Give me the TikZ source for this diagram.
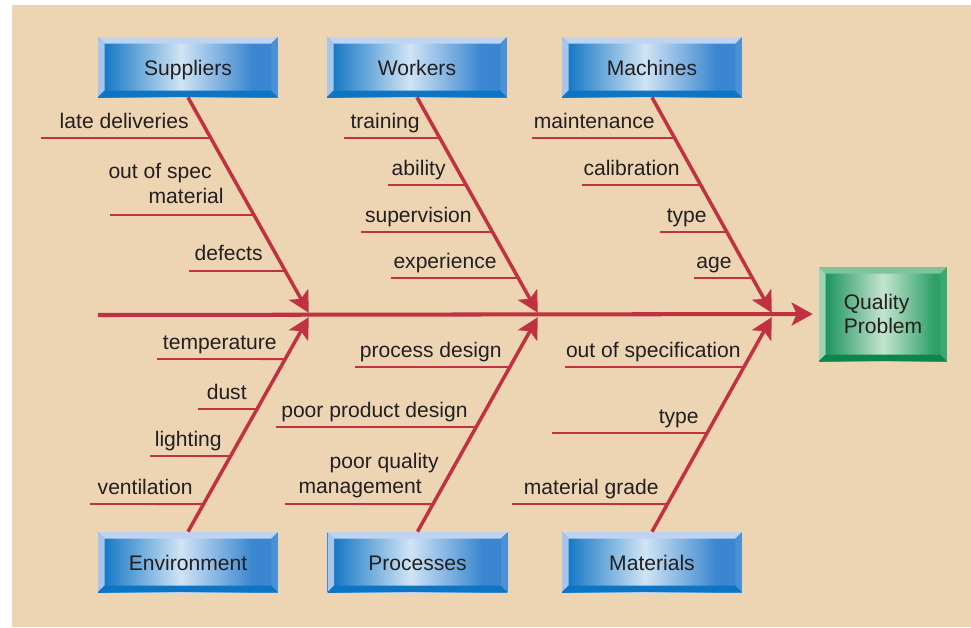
\documentclass[tikz,border=0pt]{standalone}
\usepackage{fontspec}
\setmainfont{Liberation Sans}
\usetikzlibrary{arrows.meta}
\definecolor{paper}{RGB}{237, 213, 180}
\definecolor{redline}{RGB}{192, 50, 66}
\definecolor{ink}{RGB}{35, 31, 32}
\definecolor{bluedark}{RGB}{8, 112, 194}
\definecolor{bluelight}{RGB}{208, 228, 245}
\definecolor{bluemid}{RGB}{58, 134, 208}
\definecolor{bluetop}{RGB}{190, 212, 240}
\definecolor{blueleft}{RGB}{168, 198, 236}
\definecolor{bluebottom}{RGB}{14, 116, 196}
\definecolor{blueright}{RGB}{76, 144, 214}
\definecolor{greendark}{RGB}{10, 140, 82}
\definecolor{greenlight}{RGB}{196, 228, 208}
\definecolor{greenmid}{RGB}{46, 160, 104}
\definecolor{greentop}{RGB}{124, 196, 156}
\definecolor{greenleft}{RGB}{158, 212, 180}
\definecolor{greenbottom}{RGB}{12, 134, 76}
\definecolor{greenright}{RGB}{58, 168, 112}
\pgfdeclarehorizontalshading{bluebar}{100bp}{color(0bp)=(bluedark); color(25bp)=(bluedark);
  color(48bp)=(bluelight); color(68bp)=(bluemid); color(100bp)=(bluemid)}
\pgfdeclarehorizontalshading{greenbar}{100bp}{color(0bp)=(greendark); color(25bp)=(greendark);
  color(50bp)=(greenlight); color(70bp)=(greenmid); color(100bp)=(greenmid)}

\begin{document}
\begin{tikzpicture}[x=0.02cm, y=-0.02cm,
  bevel/.style n args={4}{path picture={
    \path (path picture bounding box.north west) coordinate (bnw)
          (path picture bounding box.north east) coordinate (bne)
          (path picture bounding box.south west) coordinate (bsw)
          (path picture bounding box.south east) coordinate (bse);
    \fill[#1] (bnw) -- (bne) -- ([shift={(-0.13cm,-0.13cm)}]bne) -- ([shift={(0.13cm,-0.13cm)}]bnw) -- cycle;
    \fill[#2] (bnw) -- (bsw) -- ([shift={(0.13cm,0.13cm)}]bsw) -- ([shift={(0.13cm,-0.13cm)}]bnw) -- cycle;
    \fill[#3] (bsw) -- (bse) -- ([shift={(-0.13cm,0.13cm)}]bse) -- ([shift={(0.13cm,0.13cm)}]bsw) -- cycle;
    \fill[#4] (bne) -- (bse) -- ([shift={(-0.13cm,0.13cm)}]bse) -- ([shift={(-0.13cm,-0.13cm)}]bne) -- cycle;
  }},
  catbox/.style={rectangle, minimum width=3.6cm, minimum height=1.2cm, inner sep=0pt,
    shading=bluebar, bevel={bluetop}{blueleft}{bluebottom}{blueright},
    text=ink, font=\fontsize{12}{14}\selectfont, text height=0.34cm, text depth=0pt},
  effectbox/.style={rectangle, minimum width=2.56cm, minimum height=1.88cm, inner sep=0pt,
    shading=greenbar, bevel={greentop}{greenleft}{greenbottom}{greenright},
    text=ink, font=\fontsize{12}{13.5}\selectfont, align=left},
  bone/.style={draw=redline, line width=2pt, shorten >=0.05cm,
    -{Stealth[length=0.42cm, width=0.44cm, inset=0.1cm]}},
  spine/.style={draw=redline, line width=2.3pt, shorten >=0.12cm,
    -{Stealth[length=0.42cm, width=0.46cm, inset=0.1cm]}},
  twig/.style={draw=redline, line width=1.1pt},
  cause/.style={anchor=base east, inner sep=0pt, text=ink, font=\fontsize{12}{14}\selectfont}]

  \useasboundingbox (0,0) rectangle (971,627);
  \fill[paper] (12,5) rectangle (971,627);

  % category boxes and effect
  \node[catbox] (sup) at (188,67) {Suppliers};
  \node[catbox] (wor) at (417,67) {Workers};
  \node[catbox] (mac) at (652,67) {Machines};
  \node[catbox] (env) at (188,562) {Environment};
  \node[catbox] (pro) at (417.5,562) {Processes};
  \node[catbox] (mat) at (652,562) {Materials};
  \node[effectbox] (qp) at (883,314) {Quality\\Problem};

  \coordinate (tail) at (98,315);
  \coordinate (j1) at (310,315);
  \coordinate (j2) at (539,315);
  \coordinate (j3) at (773,315);

  % Suppliers
  \draw[twig] (41,138) -- (intersection of 41,138--0,138 and sup.south--j1);
  \node[cause] (late) at (189,128) {late deliveries};
  \draw[twig] (110,215) -- (intersection of 110,215--0,215 and sup.south--j1);
  \node[cause] (spec1) at (212,178) {out of spec};
  \node[cause] (spec2) at (224,203) {material};
  \draw[twig] (189,271) -- (intersection of 189,271--0,271 and sup.south--j1);
  \node[cause] (defects) at (263,260) {defects};

  % Workers
  \draw[twig] (344,138) -- (intersection of 344,138--0,138 and wor.south--j2);
  \node[cause] (training) at (420,128) {training};
  \draw[twig] (388,185) -- (intersection of 388,185--0,185 and wor.south--j2);
  \node[cause] (ability) at (446,175) {ability};
  \draw[twig] (361,232) -- (intersection of 361,232--0,232 and wor.south--j2);
  \node[cause] (supervision) at (472,222) {supervision};
  \draw[twig] (391,278) -- (intersection of 391,278--0,278 and wor.south--j2);
  \node[cause] (experience) at (497,268) {experience};

  % Machines
  \draw[twig] (532,138) -- (intersection of 532,138--0,138 and mac.south--j3);
  \node[cause] (maintenance) at (655,128) {maintenance};
  \draw[twig] (582,185) -- (intersection of 582,185--0,185 and mac.south--j3);
  \node[cause] (calibration) at (680,175) {calibration};
  \draw[twig] (660,232) -- (intersection of 660,232--0,232 and mac.south--j3);
  \node[cause] (mtype) at (707,222) {type};
  \draw[twig] (694,278) -- (intersection of 694,278--0,278 and mac.south--j3);
  \node[cause] (age) at (732,268) {age};

  % Environment
  \draw[twig] (157,359) -- (intersection of 157,359--0,359 and env.north--j1);
  \node[cause] (temperature) at (277,349) {temperature};
  \draw[twig] (198,409) -- (intersection of 198,409--0,409 and env.north--j1);
  \node[cause] (dust) at (247,399) {dust};
  \draw[twig] (150,456) -- (intersection of 150,456--0,456 and env.north--j1);
  \node[cause] (lighting) at (222,446) {lighting};
  \draw[twig] (90,504) -- (intersection of 90,504--0,504 and env.north--j1);
  \node[cause] (ventilation) at (193,494) {ventilation};

  % Processes
  \draw[twig] (355,367) -- (intersection of 355,367--0,367 and pro.north--j2);
  \node[cause] (pdesign) at (502,357) {process design};
  \draw[twig] (276,427) -- (intersection of 276,427--0,427 and pro.north--j2);
  \node[cause] (ppdesign) at (468,417) {poor product design};
  \draw[twig] (285,504) -- (intersection of 285,504--0,504 and pro.north--j2);
  \node[cause] (pqm1) at (439,468) {poor quality};
  \node[cause] (pqm2) at (422,493) {management};

  % Materials
  \draw[twig] (565,367) -- (intersection of 565,367--0,367 and mat.north--j3);
  \node[cause] (outspec) at (741,357) {out of specification};
  \draw[twig] (552,433) -- (intersection of 552,433--0,433 and mat.north--j3);
  \node[cause] (ttype) at (699,423) {type};
  \draw[twig] (512,504) -- (intersection of 512,504--0,504 and mat.north--j3);
  \node[cause] (grade) at (659,494) {material grade};

  % bones and spine
  \draw[bone] (sup.south) -- (j1);
  \draw[bone] (wor.south) -- (j2);
  \draw[bone] (mac.south) -- (j3);
  \draw[bone] (env.north) -- (j1);
  \draw[bone] (pro.north) -- (j2);
  \draw[bone] (mat.north) -- (j3);
  \draw[spine] (tail) -- (qp.west);

\end{tikzpicture}
\end{document}
